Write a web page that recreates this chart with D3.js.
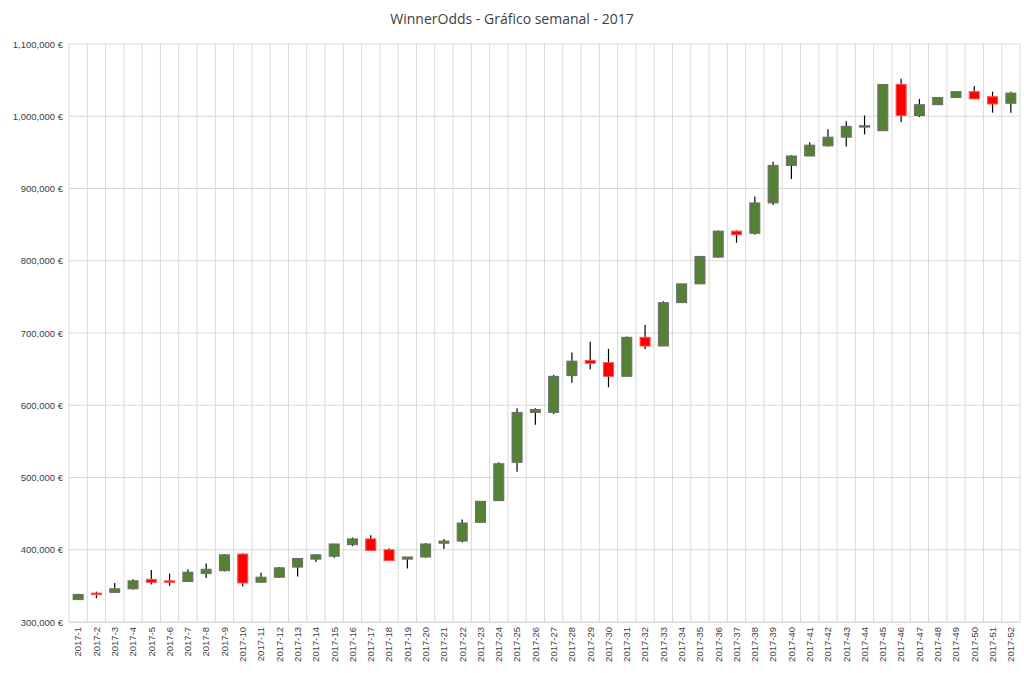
<!DOCTYPE html><html><head><meta charset="utf-8"><script src="https://cdn.jsdelivr.net/npm/d3@7"></script>
<style>body{margin:0;background:#fff}svg{font-family:"Segoe UI","Open Sans","DejaVu Sans",sans-serif}</style></head><body>
<svg id="c" width="1024" height="673"></svg>
<script>
const weeks = d3.range(1,53).map(i=>"2017-"+i);
const open  = [331,340,341,346,359,357,356,367,371,394,355,362,376,387,391,407,415,400,387,390,409,412,438,468,521,590,590,641,662,659,640,694,682,742,768,805,841,838,880,932,945,959,971,986,980,1044,1001,1016,1026,1034,1027,1018];
const close = [338,338,346,357,355,356,369,373,393,354,362,375,388,393,408,415,399,385,390,408,412,437,467,519,590,594,640,661,658,640,694,682,742,768,806,841,836,880,932,945,960,971,986,987,1044,1001,1016,1026,1034,1024,1017,1032];
const high  = [339,342,354,359,372,367,373,381,394,395,368,376,388,393,408,417,420,402,390,409,415,442,467,521,596,596,642,673,688,678,695,711,744,768,806,842,842,889,937,946,964,982,993,1001,1044,1052,1024,1026,1034,1042,1034,1034];
const low   = [331,333,341,345,352,350,356,361,370,349,355,361,363,383,389,405,399,385,374,389,401,410,438,468,508,573,588,631,650,625,640,678,682,742,768,804,825,836,877,913,945,958,958,975,980,992,999,1016,1026,1024,1005,1005];
const yTicks = d3.range(300,1101,100);
const svg=d3.select("#c");
const L=69,R=1020,T=44,B=622;
const x=d3.scaleBand().domain(weeks).range([L,R]);
const y=d3.scaleLinear().domain([300,1100]).range([B,T]);
svg.append("text").attr("x",512).attr("y",24).attr("text-anchor","middle").attr("font-size",14).attr("fill","#404040").text("WinnerOdds - Gráfico semanal - 2017");
const g=svg.append("g");
yTicks.forEach(t=>g.append("line").attr("x1",L).attr("x2",R).attr("y1",y(t)).attr("y2",y(t)).attr("stroke","#d9d9d9"));
weeks.forEach(w=>g.append("line").attr("x1",x(w)).attr("x2",x(w)).attr("y1",T).attr("y2",B).attr("stroke","#d9d9d9"));
g.append("line").attr("x1",R).attr("x2",R).attr("y1",T).attr("y2",B).attr("stroke","#d9d9d9");
const fmt=d3.format(",");
const ya=svg.append("g").attr("transform",`translate(${L},0)`).call(d3.axisLeft(y).tickValues(yTicks).tickSize(0).tickPadding(6).tickFormat(d=>fmt(d*1000)+" €"));
ya.select(".domain").remove();
ya.selectAll("text").attr("font-size",9.5).attr("fill","#404040");
const xa=svg.append("g").attr("transform",`translate(0,${B})`).call(d3.axisBottom(x).tickSize(0));
xa.select(".domain").attr("stroke","#d9d9d9");
xa.selectAll("text").attr("font-size",9.5).attr("fill","#404040").attr("transform","rotate(-90)").attr("text-anchor","end").attr("x",-5).attr("y",0).attr("dy","0.35em");
const bw=10;
weeks.forEach((w,i)=>{
  const cx=x(w)+x.bandwidth()/2, up=close[i]>=open[i];
  svg.append("line").attr("x1",cx).attr("x2",cx).attr("y1",y(high[i])).attr("y2",y(low[i])).attr("stroke","#000").attr("stroke-width",1.2);
  const top=y(Math.max(open[i],close[i])), h=Math.max(1.5,Math.abs(y(open[i])-y(close[i])));
  svg.append("rect").attr("x",cx-bw/2).attr("y",top).attr("width",bw).attr("height",h)
    .attr("fill",up?"#548235":"#ff0000").attr("stroke",up?"#6b6b6b":"#ff4d4d").attr("stroke-width",1);
});
</script></body></html>
